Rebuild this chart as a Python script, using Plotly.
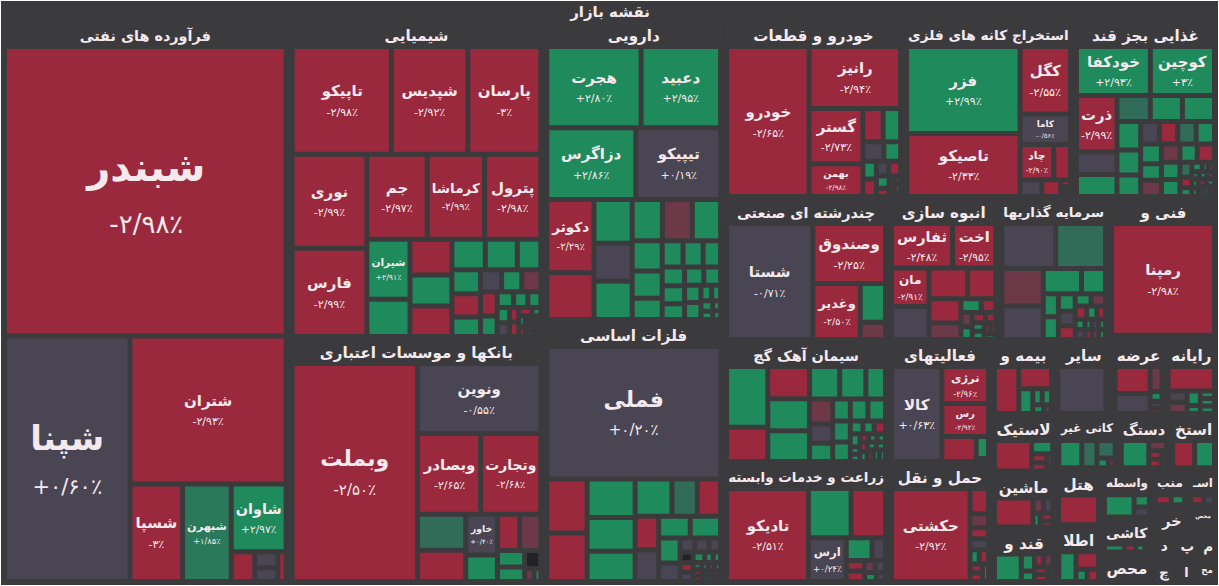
import plotly.graph_objects as go

# ---------------- data ----------------
root_label = "نقشه بازار"

naft_sector = "فرآورده های نفتی"
naft_names = ["شبندر", "شپنا", "شتران", "شسپا", "شبهرن", "شاوان"]
naft_values = [875, 331, 248, 55, 51, 40, 7.5, 3.9, 3.4, 2.7]
naft_changes = [-2.98, 0.60, -2.93, -3, 1.85, 2.97, -2.9, 0.1, -0.2, -2.6]

chem_sector = "شیمیایی"
chem_names = ["تاپیکو", "شپدیس", "پارسان", "نوری", "فارس", "جم", "کرماشا", "پترول", "شیران"]
chem_values = [119.7, 92.1, 88.1, 78.8, 73.8, 57.6, 54.7, 53.7, 28.9,
               18.0, 16.7, 14.6, 14.2, 11.4, 10.9, 8.0, 7.7, 7.5, 6.2, 5.2, 5.0, 4.7,
               4.5, 3.8, 2.9, 2.5, 2.3, 2.1, 1.9, 1.5, 1.5, 1.2, 0.8, 0.8, 0.7,
               0.45, 0.45, 0.45, 0.45, 0.45, 0.45, 0.45, 0.45]
chem_changes = [-2.98, -2.92, -3, -2.99, -2.99, -2.97, -2.99, -2.98, 2.91,
                2.9, -2.9, 2.9, -2.9, 2.9, 2.9, 2.9, 2.9, -2.9, 2.9, 0.1, 2.9, -1.4,
                -2.9, 2.9, 2.9, 2.9, 2.9, 2.9, 0.1, -2.9, -2.9, -2.9, 2.9, 2.9, -2.9,
                -2.9, -2.9, 2.9, -2.9, -1.4, 2.9, -2.9, 0.1]

bank_sector = "بانکها و موسسات اعتباری"
bank_names = ["وبملت", "ونوین", "وبصادر", "وتجارت", "خاور"]
bank_values = [314.8, 99.6, 58.7, 55.9, 14.9, 20.1, 17.3, 9.7, 9.3, 8.8, 5.2, 4.5, 3.4, 1.4, 1.0]
bank_changes = [-2.50, -0.55, -2.65, -2.68, 0.40, 1.6, -2.9, 2.9, -2.9, -1.4, 2.9, 2.9, None, -1.4, 2.9]

drug_sector = "دارویی"
drug_names = ["هجرت", "دعبید", "دزاگرس", "تیپیکو", "دکوثر"]
drug_values = [87.2, 73.5, 72.5, 69.1, 39.4, 25.1, 19.0, 16.6, 16.6, 14.2, 14.1, 13.3, 10.3,
               9.3, 7.3, 6.2, 6.0, 5.2, 4.8, 4.6, 4.0, 4.0, 3.5, 3.2, 3.2, 1.9, 1.6, 1.4, 1.1, 0.9, 0.8]
drug_changes = [2.80, 2.95, 2.86, 0.19, -2.29, -2.9, 2.9, 0.1, 2.9, 2.9, -1.4, 2.9, 2.9,
                2.9, 2.9, 2.9, 2.9, 2.9, 2.9, 2.9, 2.9, 2.9, 2.9, 2.9, 2.9, 2.9, 2.9, 2.9, 2.9, 2.9, 2.9]

metal_sector = "فلزات اساسی"
metal_names = ["فملی"]
metal_values = [265.8, 25.1, 22.5, 21.3, 18.7, 16.8, 15.8, 10.9, 10.0, 9.1, 8.6, 7.9, 7.6, 6.2,
                4.6, 2.4, 2.3, 1.9, 1.6, 1.4, 1.4, 1.4, 1.0, 0.9, 0.75,
                0.6, 0.6, 0.6, 0.6, 0.6, 0.6, 0.6, 0.6, 0.5]
metal_changes = [0.20, -2.9, -2.9, 2.9, 2.9, 2.9, 2.9, 1.6, -2.9, -2.9, 0.1, 2.9, 2.9, 2.9,
                 0.1, 0.1, 0.1, 0.1, None, -2.9, 0.1, 2.9, 2.9, 2.9, 1.6,
                 -2.9, -2.9, 2.9, -2.9, 2.9, -2.9, 2.9, 0.1, 2.9]

auto_sector = "خودرو و قطعات"
auto_names = ["خودرو", "رانیز", "گستر", "بهمن"]
auto_values = [151.1, 69.3, 36.4, 21.5, 8.2, 7.1, 5.0, 4.0, 2.9, 2.9, 2.2, 2.1, 1.9, 1.3, 0.6, 0.6, 0.6, 0.6, 0.5]
auto_changes = [-2.65, -2.94, -2.73, -2.98, -2.9, 2.9, 0.1, 2.9, 2.9, -2.9, 0.1, -2.9, 2.9, -2.9, 0.1, -2.9, -2.9, 2.9, -2.9]

mine_sector = "استخراج کانه های فلزی"
mine_names = ["فزر", "تاصیکو", "کگل", "کاما", "چاد"]
mine_values = [120.8, 87.6, 41.7, 18.8, 14.5, 7.2, 4.5, 3.9, 0.8, 0.6, 0.6]
mine_changes = [2.99, -2.33, -2.55, -0.56, -2.90, -2.9, 0.1, -2.9, -2.9, -2.9, 0.1]

food_sector = "غذایی بجز قند"
food_names = ["خودکفا", "کوچین", "ذرت"]
food_values = [44.7, 38.8, 28.2, 11.2, 11.0, 10.6, 10.2, 10.2, 8.3, 7.3, 6.3, 5.2, 5.1, 5.1, 5.1, 5.1,
               4.2, 4.2, 4.2, 3.9, 3.9, 3.9, 3.9, 2.2, 1.5, 1.3, 1.2,
               0.7, 0.7, 0.7, 0.7, 0.7, 0.7, 0.7, 0.7, 0.7, 0.7, 0.7, 0.7]
food_changes = [2.93, 3, -2.99, 0.1, 2.9, 1.6, 2.9, 2.9, 2.9, 2.9, 2.9, 0.1, -2.9, 1.6, 2.9, 2.9,
                2.9, -1.4, -1.4, 2.9, 2.9, 2.9, -2.9, 1.6, -2.9, 2.9, 2.9,
                2.9, -2.9, 1.6, 2.9, -1.4, 2.9, 2.9, -2.9, 2.9, 0.1, 2.9, 1.6]

multi_sector = "چندرشته ای صنعتی"
multi_names = ["شستا", "وصندوق", "وغدیر"]
multi_values = [128.0, 55.9, 34.0, 12.5, 5.6]
multi_changes = [-0.71, -2.25, -2.50, 2.9, -1.4]

build_sector = "انبوه سازی"
build_names = ["ثفارس", "اخت", "مان"]
build_values = [35.4, 25.1, 18.8, 16.1, 15.5, 11.3, 10.1, 6.9, 3.6, 2.6, 2.1, 1.9, 1.8, 1.4, 1.3, 1.3, 0.85, 0.85, 0.85]
build_changes = [-2.48, -2.95, -2.91, 0.1, -2.9, -2.9, -2.9, -1.4, 2.9, -2.9, -1.4, 2.9, -2.9, -2.9, 2.9, 2.9, -2.9, -1.4, 2.9]

invest_sector = "سرمایه گذاریها"
invest_names = []
invest_values = [31.5, 29.2, 20.3, 18.2, 12.7, 8.0, 4.5, 4.5, 3.8, 3.2, 3.0, 2.5, 2.3, 2.0, 1.8, 1.5,
                 1.3, 1.3, 0.9, 0.9, 0.9, 0.9, 0.9, 0.9]
invest_changes = [0.1, 1.6, -1.4, 0.05, 2.9, 2.9, 2.9, 2.9, 2.9, 0.1, -2.9, 2.9, -1.4, -2.9, 2.9, -2.9,
                  2.9, 0.1, 2.9, -2.9, 0.1, 2.9, -1.4, 2.9]

tech_sector = "فنی و"
tech_names = ["رمپنا"]
tech_values = [150, 4.8, 1.0]
tech_changes = [-2.98, -2.9, 0.1]

cement_sector = "سیمان آهک گچ"
cement_names = []
cement_values = [33.3, 18.8, 17.9, 17.8, 17.2, 13.0, 11.3, 8.5, 7.7, 6.0, 5.6, 5.2, 5.2, 5.2, 4.9, 4.6,
                 2.1, 1.9, 1.9, 1.7, 0.95, 0.95, 0.95, 0.95, 0.95, 0.95, 0.95, 0.95, 0.95, 0.95, 0.95, 0.95]
cement_changes = [2.9, -2.9, -2.9, 2.9, 2.9, 2.9, 2.9, 2.9, -1.4, 0.1, 2.9, 2.9, 2.9, 2.9, 2.9, 2.9,
                  2.9, 2.9, -2.9, 2.9, 2.9, 2.9, -2.9, 2.9, 2.9, -2.9, 2.9, 2.9, 2.9, -1.4, 2.9, 2.9]

agri_sector = "زراعت و خدمات وابسته"
agri_names = ["تادیکو", "", "", "ارس"]
agri_values = [101.9, 28.1, 22.7, 22.2, 7.9, 4.1, 2.6, 2.6, 1.7, 1.7, 1.4, 1.1]
agri_changes = [-2.51, 2.9, -2.9, 0.24, 2.9, 0.1, -2.9, -2.9, -1.4, 0.1, 2.9, 0.1]

fin_sector = "فعالیتهای"
fin_names = ["کالا", "نرژی", "رس"]
fin_values = [65.2, 23.5, 21.0, 11.7, 3.7, 0.5]
fin_changes = [0.63, -2.96, -2.92, -2.9, 2.9, None]

trans_sector = "حمل و نقل"
trans_names = ["حکشتی"]
trans_values = [100.2, 6.4, 3.5, 2.8, 2.8, 1.8, 1.8, 1.5, 1.5, 1.4]
trans_changes = [-2.92, -2.9, -1.4, -2.9, 0.1, 2.9, -2.9, -2.9, -2.9, 2.9]

minor_sectors = ["بیمه و", "سایر", "عرضه", "رایانه", "لاستیک", "ماشین", "قند و", "کانی غیر",
                 "دستگ", "استخ", "هتل", "اطلا", "واسطه", "کاشی", "محص", "منب", "اسـ", "خر",
                 "د", "چ", "پ", "محص ", "م", "ا", "مح"]
minor_values = [[19.9, 12.7, 6.0, 2.6, 2.6, 1.7, 1.2], [40, 1.5, 1.0], [16.9, 12.4, 5.3, 2.1, 1.5, 1.1],
                [20.2, 3.8, 3.8, 3.4, 1.9, 1.9, 1.9, 1.9], [23.6, 5.8, 2.9, 2.6, 2.1],
                [23.8, 3.4, 3.0, 2.1, 2.1, 1.6], [16.1, 4.9, 3.0, 2.6, 2.6, 2.1, 2.1, 1.6],
                [13.9, 9.1, 7.0, 2.5, 1.5], [17.0, 4.1, 2.4, 2.4, 2.1], [13.6, 12.4], [26],
                [11.3, 8.7, 3.0, 3.0], [16.5, 4.7, 3.8], [7.9, 4.6, 3.6, 1.8], [8, 7], [7, 6],
                [6, 5], [5, 5], [3.5, 2.5], [3, 3], [3, 3], [4, 3], [3, 2], [3, 2], [3, 2]]
minor_changes = [[-2.9, -2.9, 2.9, 2.9, 2.9, 2.9, 0.1], [0.1, None, None], [-2.9, 0.1, -1.4, 2.9, 0.1, -2.9],
                 [-2.9, 0.1, -1.4, 2.9, 2.9, 2.9, 2.9, 2.9], [-2.9, 2.9, -2.9, -2.9, 0.1],
                 [-2.9, -1.4, 0.1, 2.9, -2.9, -2.9], [2.9, 2.9, 2.9, -2.9, -1.4, -2.9, -2.9, 2.9],
                 [2.9, 1.6, 1.6, 2.9, -1.4], [2.9, -1.4, -2.9, -2.9, 0.1], [-2.9, 2.9], [-2.9],
                 [2.9, -2.9, 2.9, -2.9], [2.9, 2.9, 0.1], [2.9, -2.9, 2.9, 0.1], [0.1, -2.9], [-2.9, 2.9],
                 [-2.9, 0.1], [2.9, -2.9], [-2.9, 2.9], [2.9, -2.9], [-2.9, 0.1], [2.9, -2.9], [-2.9, 2.9],
                 [0.1, -2.9], [2.9, -2.9]]

# ---------------- styling ----------------
BG = "#3b3b3d"
TXT = "#f4eaee"
FONT = "DejaVu Sans, Noto Sans, sans-serif"
RED = (155, 41, 62)
GREEN = (31, 138, 92)
GRAY = (74, 69, 82)
DARK = "#232325"
BIG_TEXT = {"شبندر": (40, 26), "شپنا": (34, 21), "وبملت": (22, 15), "فملی": (22, 15)}
FA_DIGITS = str.maketrans("0123456789", "۰۱۲۳۴۵۶۷۸۹")


def cell_color(ch):
    if ch is None:
        return DARK
    t = min(max((abs(ch) - 0.8) / 1.4, 0.0), 1.0)
    tgt = GREEN if ch > 0 else RED
    r, g, b = [round(GRAY[k] + (tgt[k] - GRAY[k]) * t) for k in range(3)]
    return f"rgb({r},{g},{b})"


def fa_pct(ch):
    a = abs(ch)
    s = str(int(a)) if float(a).is_integer() else f"{a:.2f}"
    s = s.replace(".", "/").translate(FA_DIGITS)
    return ("+" if ch >= 0 else "-") + s + "٪"


ids, labels, parents, values, colors, texts, sizes, weights = [], [], [], [], [], [], [], []


def add_node(i, lab, par, val, col, txt, size, weight):
    ids.append(i); labels.append(lab); parents.append(par); values.append(val)
    colors.append(col); texts.append(txt); sizes.append(size); weights.append(weight)


add_node("root", root_label, "", 0, BG, root_label, 15, "bold")

major = [
    (naft_sector, naft_names, naft_values, naft_changes),
    (chem_sector, chem_names, chem_values, chem_changes),
    (bank_sector, bank_names, bank_values, bank_changes),
    (drug_sector, drug_names, drug_values, drug_changes),
    (metal_sector, metal_names, metal_values, metal_changes),
    (auto_sector, auto_names, auto_values, auto_changes),
    (mine_sector, mine_names, mine_values, mine_changes),
    (food_sector, food_names, food_values, food_changes),
    (multi_sector, multi_names, multi_values, multi_changes),
    (build_sector, build_names, build_values, build_changes),
    (invest_sector, invest_names, invest_values, invest_changes),
    (tech_sector, tech_names, tech_values, tech_changes),
    (cement_sector, cement_names, cement_values, cement_changes),
    (agri_sector, agri_names, agri_values, agri_changes),
    (fin_sector, fin_names, fin_values, fin_changes),
    (trans_sector, trans_names, trans_values, trans_changes),
]
for k, name in enumerate(minor_sectors):
    major.append((name, [], minor_values[k], minor_changes[k]))

for si, (sec, names, vals, chs) in enumerate(major):
    sid = f"S{si}"
    add_node(sid, sec, "root", 0, BG, sec, 16, "bold")
    for j, v in enumerate(vals):
        nm = names[j] if j < len(names) else ""
        ch = chs[j]
        if nm:
            ls, ps = BIG_TEXT.get(nm, (15, 11))
            txt = f"<b>{nm}</b><br><span style='font-size:{ps}px'>{fa_pct(ch)}</span>"
        else:
            ls, txt = 12, ""
        add_node(f"{sid}-{j}", nm if nm else " ", sid, v, cell_color(ch), txt, ls, "normal")

fig = go.Figure(go.Treemap(
    ids=ids, labels=labels, parents=parents, values=values,
    branchvalues="remainder", sort=True,
    text=texts, textinfo="text", textposition="middle center",
    textfont=dict(family=FONT, size=sizes, color=TXT, weight=weights),
    marker=dict(colors=colors, line=dict(width=2, color=BG),
                pad=dict(t=24, l=3, r=3, b=3)),
    tiling=dict(packing="squarify", squarifyratio=1, pad=3),
    pathbar=dict(visible=False),
    root=dict(color=BG),
    hoverinfo="none",
    domain=dict(x=[0, 1], y=[0, 1]),
))
fig.update_layout(width=1219, height=586, margin=dict(l=0, r=0, t=0, b=0),
                  paper_bgcolor=BG, plot_bgcolor=BG)
fig.write_html("out.html")
